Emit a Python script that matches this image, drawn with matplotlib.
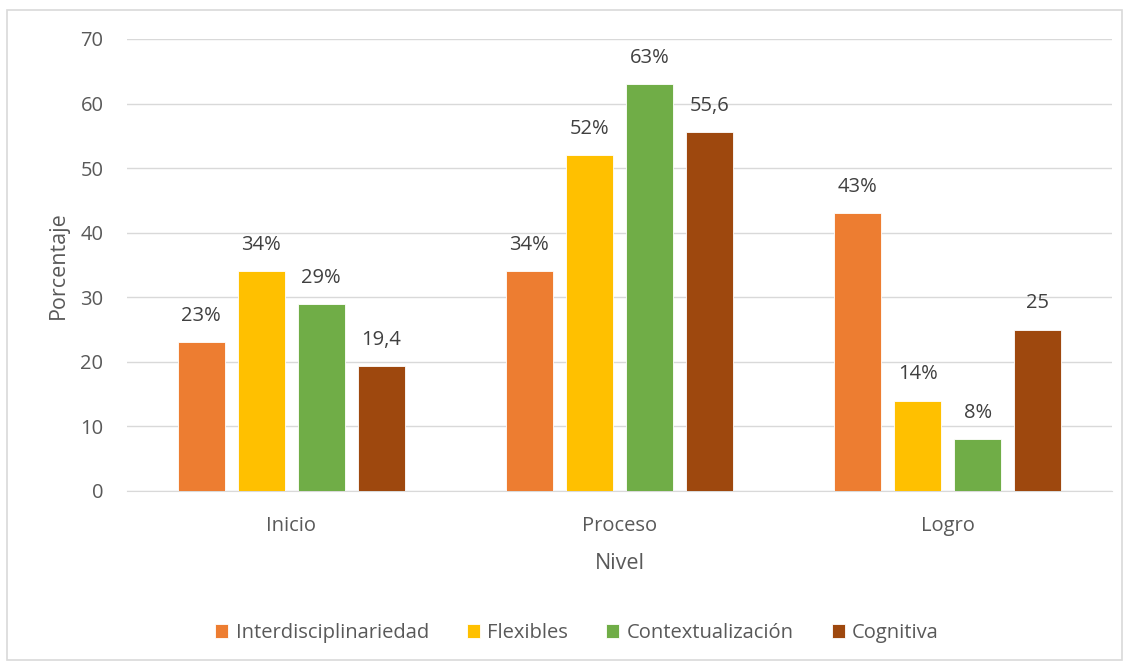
import matplotlib
matplotlib.use("Agg")
import matplotlib.pyplot as plt
import numpy as np
from matplotlib.patches import Rectangle

categories = ["Inicio", "Proceso", "Logro"]
series_names = ["Interdisciplinariedad", "Flexibles", "Contextualización", "Cognitiva"]
interdisciplinariedad = [23, 34, 43]
flexibles = [34, 52, 14]
contextualizacion = [29, 63, 8]
cognitiva = [19.4, 55.6, 25]
labels_inter = ["23%", "34%", "43%"]
labels_flex = ["34%", "52%", "14%"]
labels_cont = ["29%", "63%", "8%"]
labels_cog = ["19,4", "55,6", "25"]
yticks = [0, 10, 20, 30, 40, 50, 60, 70]

series = [interdisciplinariedad, flexibles, contextualizacion, cognitiva]
labels = [labels_inter, labels_flex, labels_cont, labels_cog]
colors = ["#ED7D31", "#FFC000", "#70AD47", "#9E480E"]

plt.rcParams['font.family'] = ['Open Sans', 'DejaVu Sans']
txt = "#595959"

fig = plt.figure(figsize=(11.26, 6.64), dpi=100)
fig.patches.append(Rectangle((7/1126, 4/664), 1115/1126, 650/664, transform=fig.transFigure,
                             fill=False, edgecolor="#D9D9D9", linewidth=1.2))
ax = fig.add_axes([127/1126, 1-491/664, 985/1126, 452/664])

x = np.arange(len(categories))
bw = 0.143
step = 0.183
for i, (vals, labs, c) in enumerate(zip(series, labels, colors)):
    pos = x + (i - 1.5) * step
    bars = ax.bar(pos, vals, width=bw, color=c, label=series_names[i], zorder=3,
                  edgecolor="white", linewidth=0.6)
    for b, lab in zip(bars, labs):
        ax.text(b.get_x() + b.get_width()/2, b.get_height() + 2.5, lab,
                ha="center", va="bottom", fontsize=14.5, color="#404040")

ax.set_xlim(-0.5, 2.5)
ax.set_ylim(0, 70)
ax.set_yticks(yticks)
ax.set_xticks(x)
ax.set_xticklabels(categories)
ax.grid(axis="y", color="#D9D9D9", linewidth=1, zorder=0)
for s in ["top", "right", "left"]:
    ax.spines[s].set_visible(False)
ax.spines["bottom"].set_color("#D9D9D9")
ax.tick_params(axis="both", length=0, labelsize=14.5, colors=txt)
ax.tick_params(axis="y", pad=17)
ax.tick_params(axis="x", pad=18)
ax.set_xlabel("Nivel", fontsize=15.5, color=txt, labelpad=12)
ax.set_ylabel("Porcentaje", fontsize=15.5, color=txt, labelpad=8)

leg = fig.legend(loc="center", bbox_to_anchor=(577/1126, 1-633/664), ncol=4, frameon=False,
                 fontsize=14.5, handlelength=0.65, handleheight=0.65, handletextpad=0.35,
                 columnspacing=1.9)
for t in leg.get_texts():
    t.set_color(txt)

fig.savefig("out.png", dpi=100)
